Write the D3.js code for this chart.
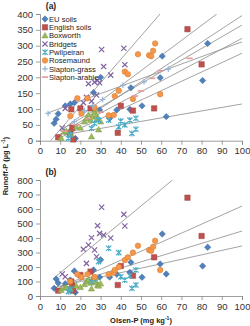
<!DOCTYPE html>
<html>
<head>
<meta charset="utf-8">
<script src="https://cdn.jsdelivr.net/npm/d3@7"></script>
<style>
  html, body { margin: 0; padding: 0; background: #fff; }
  svg { display: block; font-family: "Liberation Sans", Arial, sans-serif; }
</style>
</head>
<body>
<div id="chart"></div>
<script>
// ---- data (Olsen-P on x, Runoff-P on y; panel a and panel b share x) ----
var seriesNames = ["EU soils", "English soils", "Boxworth", "Bridgets", "Pwllpeiran", "Rosemaund", "Slapton-grass", "Slapton-arable"];

var euX = [7, 8, 9, 12.5, 15, 17, 17.5, 26.5, 29.5, 30, 34.5, 38, 44.5, 45, 50.5, 59.5, 60.5, 62.5, 80.5, 83];
var euA = [55, 68, 85, 110, 116, 120, 7, 152, 97, 200, 71, 97, 99, 167, 110, 199, 267, 76, 190, 307];
var euB = [53, 117, 90, 85, 110, 172, 25, 180, 130, 250, 130, 150, 163, 232, 129, 221, 428, 152, 207, 336];

var engX = [9, 15, 16, 16.5, 15.5, 20, 25, 38.5, 40, 46, 56.5, 73, 80];
var engA = [11, 23, 41, 4, 99, 102, 102, 25, 110, 95, 102, 352, 241];
var engB = [37, 46, 69, 37, 100, 145, 168, 76, 207, 140, 267, 678, 414];

var boxX = [10.5, 12, 13, 15, 18, 20, 22, 23, 24, 25, 25.5, 26, 27, 27.5, 28, 28.5, 29, 30];
var boxA = [8, 28, 30, 22, 44, 40, 60, 70, 82, 65, 13, 75, 90, 100, 80, 70, 35, 60];
var boxB = [40, 55, 60, 50, 70, 60, 80, 100, 110, 90, 50, 120, 100, 130, 95, 75, 70, 85];

var briX = [11, 12.5, 21.5, 23, 24, 25.5, 27, 28, 28.5, 29.5, 30.5, 31.5, 35, 41.5, 42];
var briA = [40, 102, 120, 137, 180, 125, 185, 144, 190, 183, 288, 234, 207, 292, 240];
var briB = [152, 133, 322, 225, 352, 402, 317, 271, 485, 432, 612, 420, 400, 563, 483];

var pwlX = [14, 15, 25.5, 27, 29, 34, 39, 40, 42, 44.5, 45.5, 47.5, 47.5];
var pwlA = [8, 18, 39, 55, 65, 65, 44, 62, 50, 65, 23, 36, 71];
var pwlB = [30, 45, 100, 120, 237, 329, 299, 133, 110, 140, 53, 76, 179];

var rosX = [15, 18.5, 20.5, 23.5, 27, 34, 36.5, 37, 39, 42, 43.5, 46, 48.5, 54, 55, 56, 57, 59.5];
var rosA = [78, 134, 86, 134, 105, 80, 81, 141, 158, 218, 210, 132, 273, 270, 267, 284, 307, 147];
var rosB = [100, 150, 130, 150, 130, 150, 161, 179, 200, 248, 267, 299, 347, 317, 312, 340, 381, 179];

var sgX = [4, 17, 22, 26, 31, 41, 51.5, 63.5];
var sgA = [86, 60, 95, 110, 130, 175, 186, 226];

var saX = [12, 18, 24, 30, 47, 50, 55.5, 59.5, 74];
var saA = [30, 50, 70, 90, 141, 157, 197, 221, 260];

// trendlines: [x0, y0, x1, y1]
var trendA = [
  [5.2, 0, 59.4, 400],
  [10, 30, 87.5, 400],
  [8, 10, 100, 395],
  [12, 40, 100, 365],
  [10, 20, 100, 323],
  [4, 88, 100, 312],
  [10, 10, 100, 276],
  [12, 19, 100, 116]
];
var trendB = [
  [6.7, 122, 65.6, 800],
  [10, 60, 100, 620],
  [10, 65, 100, 448],
  [8, 63, 100, 345]
];

var xTicks = [0, 10, 20, 30, 40, 50, 60, 70, 80, 90, 100];
var yTicksA = [0, 50, 100, 150, 200, 250, 300, 350, 400];
var yTicksB = [0, 100, 200, 300, 400, 500, 600, 700, 800];

// ---- styling ----
var colors = ["#4F81BD", "#C0504D", "#9BBB59", "#8064A2", "#4BACC6", "#F79646", "#95B3D7", "#E39A98"];
var shapes = ["diamond", "square", "triangle", "x", "star", "circle", "plus", "dash"];

var W = 250, H = 326;
var svg = d3.select("#chart").append("svg").attr("width", W).attr("height", H);

var x = d3.scaleLinear().domain([0, 100]).range([40, 242]);

function markerPath(shape) {
  switch (shape) {
    case "diamond": return "M0,-3.2L3.2,0L0,3.2L-3.2,0Z";
    case "square": return "M-2.7,-2.7H2.7V2.7H-2.7Z";
    case "triangle": return "M0,-3.1L3.1,2.3H-3.1Z";
    case "x": return "M-2.6,-2.6L2.6,2.6M-2.6,2.6L2.6,-2.6";
    case "star": return "M-2.6,-2.6L2.6,2.6M-2.6,2.6L2.6,-2.6M0,-3L0,3";
    case "plus": return "M-2.8,0H2.8M0,-2.8V2.8";
    case "dash": return "M-3.2,0H3.2";
  }
  return null;
}

function drawMarker(g, shape, color, px, py) {
  if (shape === "circle") {
    g.append("circle").attr("cx", px).attr("cy", py).attr("r", 2.8)
      .attr("fill", color).attr("stroke", d3.color(color).darker(0.5)).attr("stroke-width", 0.5);
  } else if (shape === "x" || shape === "star" || shape === "plus" || shape === "dash") {
    g.append("path").attr("d", markerPath(shape))
      .attr("transform", "translate(" + px + "," + py + ")")
      .attr("fill", "none").attr("stroke", color)
      .attr("stroke-width", shape === "dash" ? 1.6 : 1.2);
  } else {
    g.append("path").attr("d", markerPath(shape))
      .attr("transform", "translate(" + px + "," + py + ")")
      .attr("fill", color).attr("stroke", d3.color(color).darker(0.6)).attr("stroke-width", 0.5);
  }
}

function panel(opts) {
  var y = d3.scaleLinear().domain([0, opts.yMax]).range([opts.bottom, opts.top]);
  var g = svg.append("g");

  g.append("clipPath").attr("id", opts.id)
    .append("rect").attr("x", x(0)).attr("y", opts.top)
    .attr("width", x(100) - x(0)).attr("height", opts.bottom - opts.top);

  // axes
  var yAxis = d3.axisLeft(y).tickValues(opts.yTicks).tickSize(4).tickPadding(3);
  var xAxis = d3.axisBottom(x).tickValues(xTicks).tickSize(4).tickPadding(3);
  var ya = g.append("g").attr("transform", "translate(" + x(0) + ",0)").call(yAxis);
  var xa = g.append("g").attr("transform", "translate(0," + opts.bottom + ")").call(xAxis);
  [ya, xa].forEach(function (a) {
    a.select(".domain").attr("stroke", "#868686").attr("stroke-width", 0.8);
    a.selectAll(".tick line").attr("stroke", "#868686").attr("stroke-width", 0.8);
    a.selectAll("text").attr("font-size", 9.5).attr("fill", "#333")
      .attr("font-family", "'Liberation Sans', Arial, sans-serif");
  });

  // trendlines
  var tl = g.append("g").attr("clip-path", "url(#" + opts.id + ")");
  tl.selectAll("line").data(opts.trend).enter().append("line")
    .attr("x1", function (d) { return x(d[0]); })
    .attr("y1", function (d) { return y(d[1]); })
    .attr("x2", function (d) { return x(d[2]); })
    .attr("y2", function (d) { return y(d[3]); })
    .attr("stroke", "#8c8c8c").attr("stroke-width", 0.8);

  // points
  var pg = g.append("g");
  opts.series.forEach(function (s) {
    s.xs.forEach(function (xv, i) {
      drawMarker(pg, shapes[s.k], colors[s.k], x(xv), y(s.ys[i]));
    });
  });

  g.append("text").attr("x", 51).attr("y", opts.top - 5)
    .attr("text-anchor", "middle").attr("font-size", 8.5).attr("font-weight", "bold")
    .attr("fill", "#222").text(opts.label);
}

panel({
  id: "clipA", top: 14, bottom: 140.7, yMax: 400, yTicks: yTicksA, trend: trendA, label: "(a)",
  series: [
    { k: 0, xs: euX, ys: euA }, { k: 1, xs: engX, ys: engA }, { k: 2, xs: boxX, ys: boxA },
    { k: 3, xs: briX, ys: briA }, { k: 4, xs: pwlX, ys: pwlA }, { k: 5, xs: rosX, ys: rosA },
    { k: 6, xs: sgX, ys: sgA }, { k: 7, xs: saX, ys: saA }
  ]
});

panel({
  id: "clipB", top: 180, bottom: 296, yMax: 800, yTicks: yTicksB, trend: trendB, label: "(b)",
  series: [
    { k: 0, xs: euX, ys: euB }, { k: 1, xs: engX, ys: engB }, { k: 2, xs: boxX, ys: boxB },
    { k: 3, xs: briX, ys: briB }, { k: 4, xs: pwlX, ys: pwlB }, { k: 5, xs: rosX, ys: rosB }
  ]
});

// legend
var lg = svg.append("g");
seriesNames.forEach(function (name, i) {
  var ly = 19 + i * 8.3;
  drawMarker(lg, shapes[i], colors[i], 45, ly);
  lg.append("text").attr("x", 49).attr("y", ly + 2.7).attr("font-size", 7.6)
    .attr("fill", "#222").text(name);
});

// axis titles
svg.append("text").attr("x", 141).attr("y", 323).attr("text-anchor", "middle")
  .attr("font-size", 7.5).attr("font-weight", "bold").attr("fill", "#222")
  .html("Olsen-P (mg kg<tspan dy='-3' font-size='5'>-1</tspan><tspan dy='3'>)</tspan>");
svg.append("text").attr("transform", "translate(8,166) rotate(-90)").attr("text-anchor", "middle")
  .attr("font-size", 7.5).attr("font-weight", "bold").attr("fill", "#222")
  .html("Runoff-P (µg L<tspan dy='-3' font-size='5'>-1</tspan><tspan dy='3'>)</tspan>");
</script>
</body>
</html>
